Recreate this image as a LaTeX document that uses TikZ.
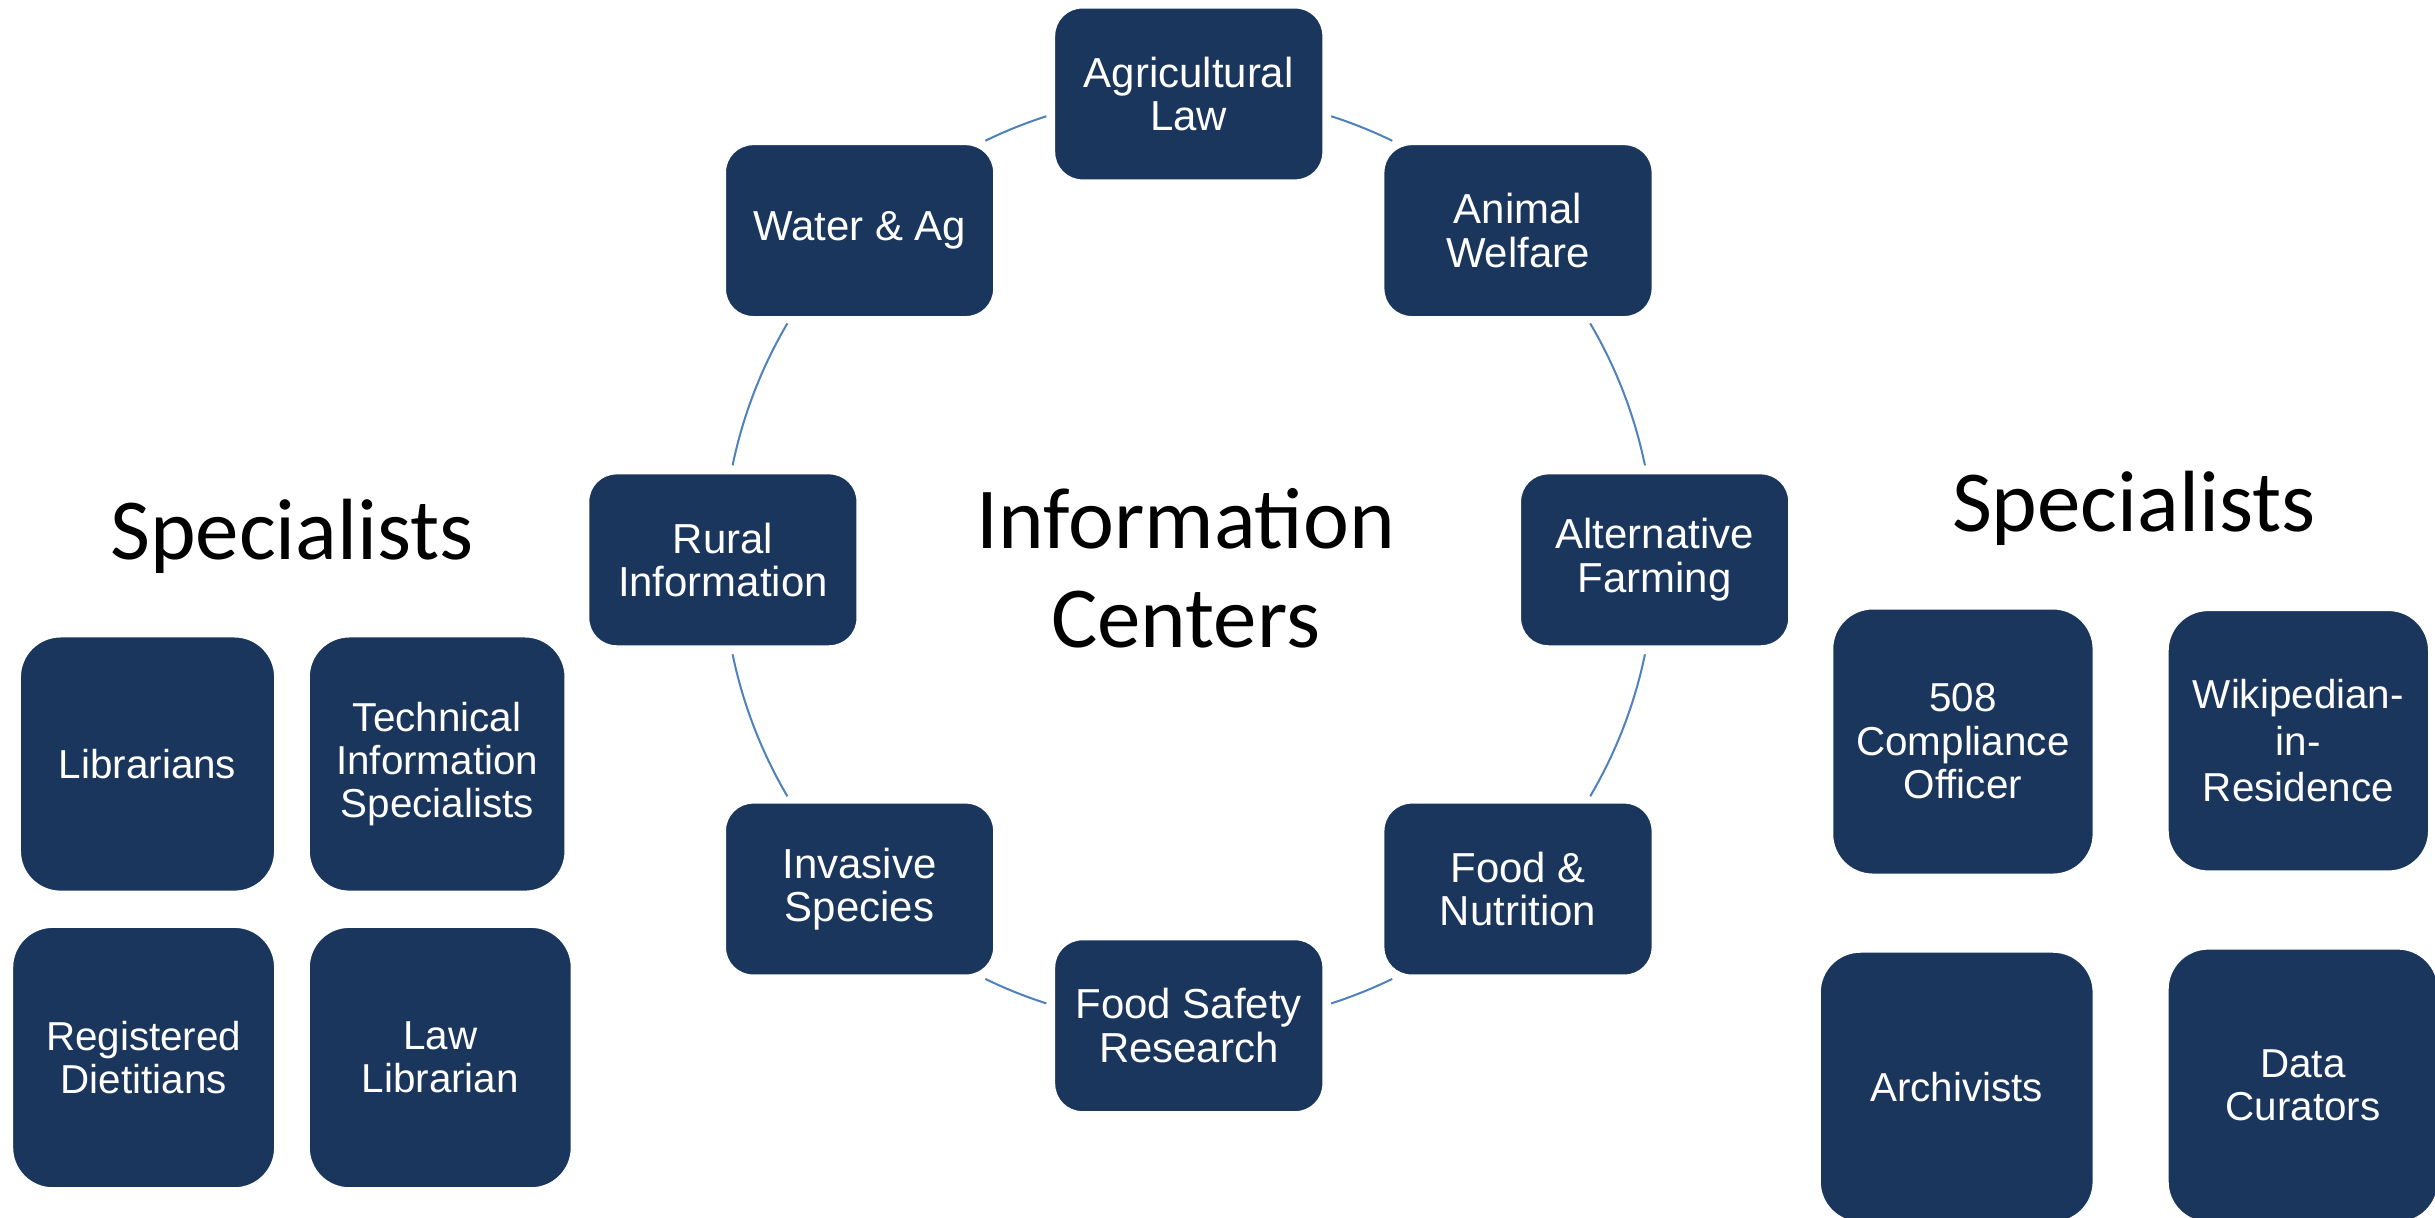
\documentclass[tikz,border=0pt]{standalone}
\usepackage{fontspec}
\setmainfont{Liberation Sans}
\newfontfamily\calibri{Carlito}
\definecolor{navy}{HTML}{1B365D}
\definecolor{ringblue}{HTML}{4F81BD}
\begin{document}
\begin{tikzpicture}[x=1pt,y=1pt,
    centerbox/.style={draw=white,line width=1pt,fill=navy,rounded corners=18pt,minimum width=173pt,minimum height=111pt,text=white,align=center,font=\fontsize{27}{28}\selectfont},
    specbox/.style={draw=white,line width=1pt,fill=navy,rounded corners=26pt,minimum width=168pt,minimum height=168pt,text=white,align=center,font=\fontsize{26}{28}\selectfont},
    bigtext/.style={font=\calibri\fontsize{56}{64}\selectfont,align=center},
    ring/.style={ringblue,line width=1.3pt}]
    \useasboundingbox (0,0) rectangle (1568,-784);
    \coordinate (hub) at (765.5,-360.5);

    \foreach \a\b in {72.2/64.1,30.5/11.7,-11.7/-30.5,-64.1/-72.2,-107.8/-115.9,-149.5/-168.3,168.3/149.5,115.9/107.8} {
      \draw[ring] (hub) ++(\a:300) arc[start angle=\a,end angle=\b,radius=300];
    }

    \node[centerbox] (aglaw) at (765.5,-60.5) {Agricultural\\Law};
    \node[centerbox] (animal) at (977.5,-148.5) {Animal\\Welfare};
    \node[centerbox] (altfarm) at (1065.5,-360.5) {Alternative\\Farming};
    \node[centerbox] (foodnut) at (977.5,-572.5) {Food \&\\Nutrition};
    \node[centerbox] (foodsafe) at (765.5,-660.5) {Food Safety\\Research};
    \node[centerbox] (invasive) at (553.5,-572.5) {Invasive\\Species};
    \node[centerbox] (rural) at (465.5,-360.5) {Rural\\Information};
    \node[centerbox] (water) at (553.5,-148.5) {Water \& Ag};

    \node[bigtext] (infocenters) at (763.5,-366) {Information\\Centers};
    \node[bigtext,anchor=base] (specleft) at (188,-360) {Specialists};
    \node[bigtext,anchor=base] (specright) at (1374,-342) {Specialists};

    \node[specbox,minimum width=164pt,minimum height=164pt] (librarians) at (95,-492) {Librarians};
    \node[specbox,minimum width=165pt,minimum height=164pt] (techinfo) at (281.5,-492) {Technical\\Information\\Specialists};
    \node[specbox,minimum width=169pt] (dietitians) at (92.5,-681) {Registered\\Dietitians};
    \node[specbox,minimum width=169pt] (lawlib) at (283.5,-681) {Law\\Librarian};

    \node[specbox,minimum height=171pt] (compliance) at (1264,-477.5) {508\\Compliance\\Officer};
    \node[specbox,font=\fontsize{26}{30}\selectfont] (wiki) at (1480,-477) {Wikipedian-\\in-\\Residence};
    \node[specbox,minimum width=176pt,minimum height=174pt] (archivists) at (1260,-700) {Archivists};
    \node[specbox,minimum width=174pt,minimum height=176pt] (curators) at (1483,-699) {Data\\Curators};
\end{tikzpicture}
\end{document}
